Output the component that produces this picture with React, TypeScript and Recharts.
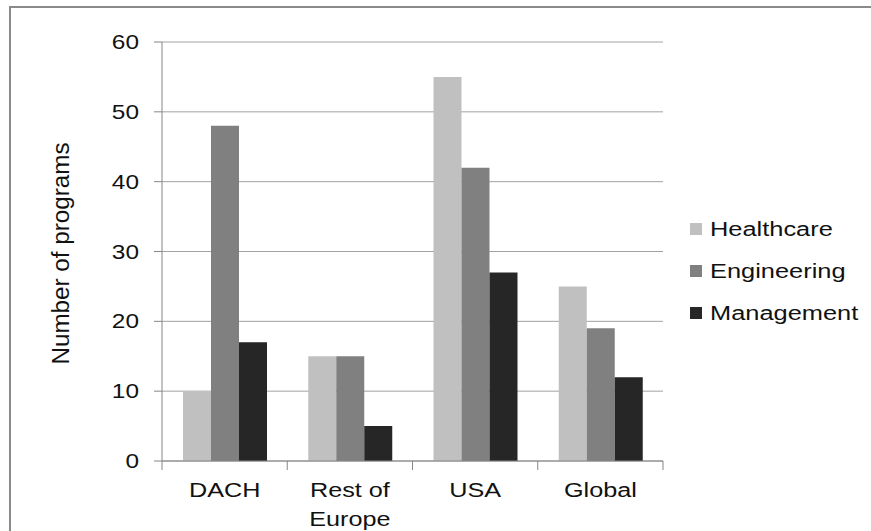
import { BarChart, Bar, XAxis, YAxis, CartesianGrid } from "recharts";

const regions = ["DACH", "Rest of\nEurope", "USA", "Global"];
const healthcare = [10, 15, 55, 25];
const engineering = [48, 15, 42, 19];
const management = [17, 5, 27, 12];
const yTicks = [0, 10, 20, 30, 40, 50, 60];

const seriesNames = ["Healthcare", "Engineering", "Management"];
const seriesColors = ["#c0c0c0", "#808080", "#262626"];

const data = regions.map((region, i) => ({
  region,
  Healthcare: healthcare[i],
  Engineering: engineering[i],
  Management: management[i],
}));

const W = 871;
const H = 531;
const M = { top: 42, right: 208, bottom: 0, left: 0 };
const X_H = 70;
const Y_W = 162;
const halfBand = (W - M.left - Y_W - M.right) / regions.length / 2;
const font = "'Liberation Sans', Arial, sans-serif";
const axisGray = "#868686";
const ink = "#111";

function RegionTick(props: any) {
  const { x, y, payload, index } = props;
  const lines = String(payload.value).split("\n");
  return (
    <g>
      <line x1={x - halfBand} x2={x - halfBand} y1={y - 8} y2={y + 1} stroke={axisGray} />
      {index === regions.length - 1 && (
        <line x1={x + halfBand} x2={x + halfBand} y1={y - 8} y2={y + 1} stroke={axisGray} />
      )}
      {lines.map((l, i) => (
        <text
          key={i}
          transform={`translate(${x},${y + 28 + i * 29}) scale(1.2,1)`}
          textAnchor="middle"
          fontSize={21}
          fontFamily={font}
          fill={ink}
        >
          {l}
        </text>
      ))}
    </g>
  );
}

function ValueTick(props: any) {
  const { y, payload } = props;
  return (
    <text
      transform={`translate(139,${y + 7}) scale(1.22,1)`}
      textAnchor="end"
      fontSize={20}
      fontFamily={font}
      fill={ink}
    >
      {payload.value}
    </text>
  );
}

function YTitle(props: any) {
  const { viewBox } = props;
  const cy = viewBox.y + viewBox.height / 2;
  return (
    <text
      transform={`translate(69,${cy + 2}) scale(1.22,1) rotate(-90)`}
      textAnchor="middle"
      fontSize={19}
      fontFamily={font}
      fill={ink}
      textLength={222}
      lengthAdjust="spacingAndGlyphs"
    >
      Number of programs
    </text>
  );
}

export default function App() {
  return (
    <div style={{ position: "absolute", left: 0, top: 0, width: W, height: H, background: "#fff", overflow: "hidden" }}>
      <div
        style={{
          position: "absolute",
          left: 9,
          top: 6,
          width: W - 11,
          height: H - 8,
          borderTop: "2px solid #8a8a8a",
          borderLeft: "2px solid #8a8a8a",
        }}
      />
      <BarChart
        width={W}
        height={H}
        data={data}
        margin={M}
        barCategoryGap={21}
        barGap={0}
        style={{ position: "absolute", left: 0, top: 0 }}
      >
        <CartesianGrid vertical={false} stroke="#a2a2a2" />
        <XAxis
          dataKey="region"
          axisLine={{ stroke: axisGray }}
          tickLine={false}
          tick={<RegionTick />}
          interval={0}
          height={X_H}
        />
        <YAxis
          width={Y_W}
          domain={[0, 60]}
          ticks={yTicks}
          axisLine={{ stroke: axisGray }}
          tickLine={{ stroke: axisGray }}
          tickSize={8}
          tick={<ValueTick />}
          label={<YTitle />}
        />
        {seriesNames.map((name, i) => (
          <Bar key={name} dataKey={name} fill={seriesColors[i]} isAnimationActive={false} />
        ))}
      </BarChart>
      <div style={{ position: "absolute", left: 690, top: 208, fontFamily: font, fontSize: 20, color: ink }}>
        {seriesNames.map((name, i) => (
          <div key={name} style={{ display: "flex", alignItems: "center", height: 42 }}>
            <span style={{ width: 12, height: 12, background: seriesColors[i], display: "inline-block" }} />
            <span style={{ marginLeft: 8, display: "inline-block", transform: "scaleX(1.27)", transformOrigin: "left center" }}>
              {name}
            </span>
          </div>
        ))}
      </div>
    </div>
  );
}
